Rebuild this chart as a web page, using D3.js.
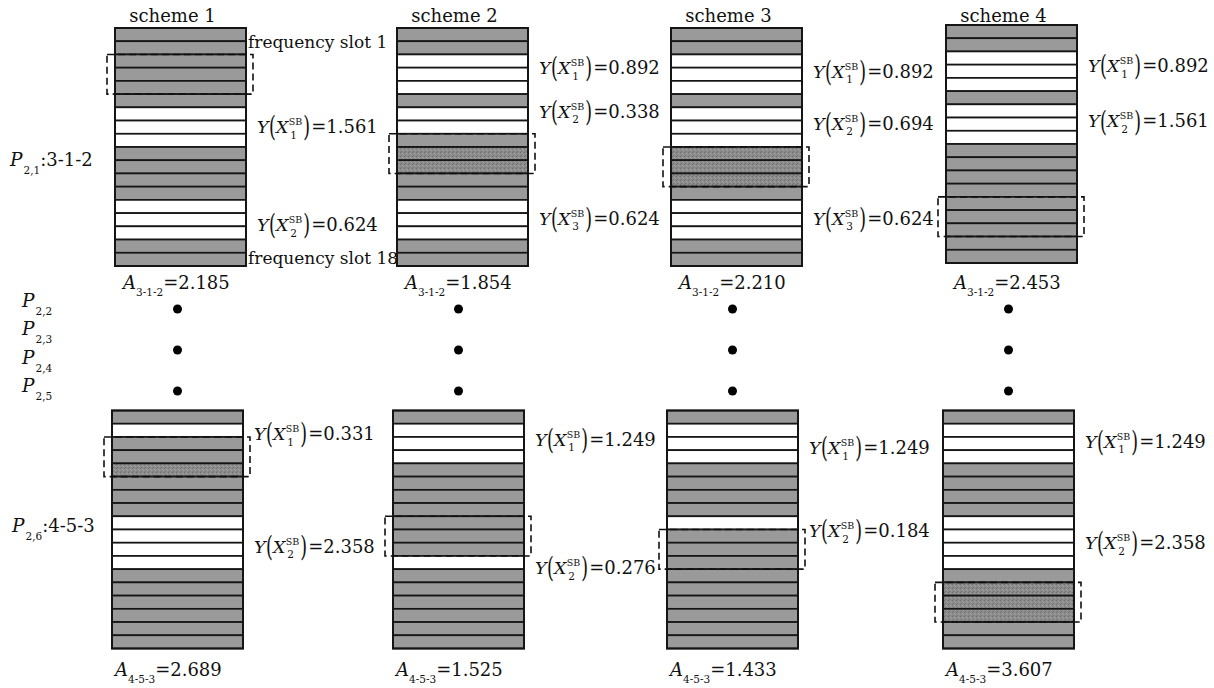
<!DOCTYPE html>
<html>
<head>
<meta charset="utf-8">
<script src="https://cdn.jsdelivr.net/npm/d3@7"></script>
<style>
  body { margin: 0; background: #fff; }
  svg { display: block; }
</style>
</head>
<body>
<svg id="chart" width="1214" height="688"></svg>
<script>
// ---- data -------------------------------------------------------------
const schemes = ["scheme 1", "scheme 2", "scheme 3", "scheme 4"];
const slotIds = d3.range(1, 19); // frequency slots 1..18

// slot state per scheme, slot 1 first: g = occupied, w = free, h = newly allocated
const topSlots = [
  "ggggggwwwggggwwwgg",
  "ggwwwgwwghhggwwwgg",
  "ggwwwgwwwhhhgwwwgg",
  "ggwwwgwwwggggggggg"
];
const bottomSlots = [
  "gwgghgggwwwwgggggg",
  "gwwwgggggggwgggggg",
  "gwwwggggwggggggggg",
  "gwwwggggwwwwghhhgg"
];

// first slot of the 3-slot candidate window (dashed box)
const topWindow = [3, 9, 10, 14];
const bottomWindow = [3, 9, 10, 14];

// Y(X_k^SB) values with the slot position they annotate
const topSB = [
  [{ k: 1, v: "1.561", at: 7.47 }, { k: 2, v: "0.624", at: 14.9 }],
  [{ k: 1, v: "0.892", at: 3.03 }, { k: 2, v: "0.338", at: 6.33 }, { k: 3, v: "0.624", at: 14.4 }],
  [{ k: 1, v: "0.892", at: 3.3 }, { k: 2, v: "0.694", at: 7.2 }, { k: 3, v: "0.624", at: 14.4 }],
  [{ k: 1, v: "0.892", at: 3.1 }, { k: 2, v: "1.561", at: 7.27 }]
];
const bottomSB = [
  [{ k: 1, v: "0.331", at: 1.77 }, { k: 2, v: "2.358", at: 10.3 }],
  [{ k: 1, v: "1.249", at: 2.2 }, { k: 2, v: "0.276", at: 11.9 }],
  [{ k: 1, v: "1.249", at: 2.83 }, { k: 2, v: "0.184", at: 9.1 }],
  [{ k: 1, v: "1.249", at: 2.35 }, { k: 2, v: "2.358", at: 10.0 }]
];

const topPath = "3-1-2";
const bottomPath = "4-5-3";
const topA = ["2.185", "1.854", "2.210", "2.453"];
const bottomA = ["2.689", "1.525", "1.433", "3.607"];
const midPaths = ["2,2", "2,3", "2,4", "2,5"];

// ---- layout -----------------------------------------------------------
const FONT = "'DejaVu Serif', serif";
const SIZE = 17.5;
const BW = 131;          // block width
const BH = 238;          // block height (18 slots)
const fills = { g: "#9a9a9a", w: "#ffffff", h: "url(#grain)" };

const svg = d3.select("#chart");

// fine grain texture for newly allocated slots
const pat = svg.append("defs").append("pattern")
  .attr("id", "grain").attr("width", 4).attr("height", 4)
  .attr("patternUnits", "userSpaceOnUse");
pat.append("rect").attr("width", 4).attr("height", 4).attr("fill", "#8b8b8b");
pat.append("rect").attr("x", 0).attr("y", 0).attr("width", 1).attr("height", 1).attr("fill", "#6f6f6f");
pat.append("rect").attr("x", 2).attr("y", 1).attr("width", 1).attr("height", 1).attr("fill", "#a6a6a6");
pat.append("rect").attr("x", 1).attr("y", 3).attr("width", 1).attr("height", 1).attr("fill", "#777");
pat.append("rect").attr("x", 3).attr("y", 2).attr("width", 1).attr("height", 1).attr("fill", "#9d9d9d");

const xTop = d3.scaleOrdinal().domain(schemes).range([115, 397, 671, 946]);
const xBot = d3.scaleOrdinal().domain(schemes).range([112, 393, 667, 943]);
const yTop = d3.scaleOrdinal().domain(schemes).range([28, 28, 28, 25]);
const yBot = d3.scaleOrdinal().domain(schemes).range([410.5, 410.5, 410.5, 410.5]);

// ---- text helpers -----------------------------------------------------
function run(g, x, y, txt, opts = {}) {
  const t = g.append("text")
    .attr("x", x).attr("y", y)
    .style("font-family", FONT)
    .style("font-size", (opts.size || SIZE) + "px")
    .attr("fill", "#111")
    .text(txt);
  if (opts.italic) t.style("font-style", "italic");
  if (opts.anchor) t.attr("text-anchor", opts.anchor);
  return t;
}
const wid = t => t.node().getComputedTextLength();

function paren(g, x, base, ch) {
  const t = g.append("text")
    .attr("transform", `translate(${x},${base - 5}) scale(1,1.62) translate(0,5)`)
    .style("font-family", FONT).style("font-size", SIZE + "px")
    .attr("fill", "#111")
    .text(ch);
  return wid(t);
}

// Y(X_k^SB)=value
function sbLabel(g, x, base, d) {
  let cx = x;
  cx += wid(run(g, cx, base, "Y", { italic: true })) + 0.5;
  cx += paren(g, cx, base, "(");
  cx += wid(run(g, cx, base, "X", { italic: true })) + 0.5;
  const sup = wid(run(g, cx, base - 8, "SB", { size: 9.5 }));
  const sub = wid(run(g, cx + 1.5, base + 5.5, String(d.k), { size: 10.5 }));
  cx += Math.max(sup, sub + 1.5) + 1;
  cx += paren(g, cx, base, ")");
  run(g, cx + 1, base, "=" + d.v, { size: 18 });
}

// A_path=value
function aLabel(g, x, base, path, v) {
  let cx = x;
  cx += wid(run(g, cx, base, "A", { italic: true, size: 18 }));
  cx += wid(run(g, cx, base + 7, path, { size: 10.5 }));
  run(g, cx, base, "=" + v, { size: 18 });
}

// P_{i,j}[:path]
function pLabel(g, x, base, idx, path) {
  let cx = x;
  cx += wid(run(g, cx, base, "P", { italic: true, size: 18.5 })) + 1;
  cx += wid(run(g, cx, base + 8, idx, { size: 10.5 }));
  if (path) run(g, cx, base, ":" + path, { size: 18 });
}

// ---- blocks -----------------------------------------------------------
function drawBlock(x0, y0, states, win, labels) {
  const g = svg.append("g");
  const y = d3.scaleBand().domain(slotIds).range([y0, y0 + BH]);
  g.selectAll("rect.slot")
    .data(slotIds)
    .join("rect")
    .attr("class", "slot")
    .attr("x", x0).attr("y", d => y(d))
    .attr("width", BW).attr("height", y.bandwidth())
    .attr("fill", d => fills[states[d - 1]])
    .attr("stroke", "#151515").attr("stroke-width", 1.7);
  g.append("rect")
    .attr("x", x0).attr("y", y0).attr("width", BW).attr("height", BH)
    .attr("fill", "none").attr("stroke", "#151515").attr("stroke-width", 2);
  // candidate window
  g.append("rect")
    .attr("x", x0 - 8).attr("y", y(win))
    .attr("width", BW + 15).attr("height", y.bandwidth() * 3)
    .attr("fill", "none").attr("stroke", "#111")
    .attr("stroke-width", 1.6).attr("stroke-dasharray", "7,4");
  // value labels
  const lx = x0 + BW + 11;
  labels.forEach(d => sbLabel(g, lx, y0 + d.at * y.step() + 6.3, d));
  return y;
}

schemes.forEach((s, i) => {
  const xt = xTop(s), yt = yTop(s);
  const xb = xBot(s), yb = yBot(s);
  drawBlock(xt, yt, topSlots[i], topWindow[i], topSB[i]);
  drawBlock(xb, yb, bottomSlots[i], bottomWindow[i], bottomSB[i]);

  // title
  run(svg, xt + BW / 2 - 8, 21.5, s, { anchor: "middle", size: 18 });

  // path metric values
  aLabel(svg, xt + 8, 289, topPath, topA[i]);
  aLabel(svg, xb + 3, 676, bottomPath, bottomA[i]);

  // ellipsis dots between the two paths
  const dy = d3.scalePoint().domain([0, 1, 2]).range([309, 391]);
  svg.selectAll(null).data([0, 1, 2]).join("circle")
    .attr("cx", xb + BW / 2).attr("cy", d => dy(d)).attr("r", 4.5)
    .attr("fill", "#000");

  if (i === 0) {
    run(svg, xt + BW + 2, 48, "frequency slot 1", { size: 17 });
    run(svg, xt + BW + 2, 264, "frequency slot 18", { size: 17 });
  }
});

// path names on the left
pLabel(svg, 10, 166, "2,1", topPath);
const pY = d3.scalePoint().domain(midPaths).range([307, 392]);
midPaths.forEach(p => pLabel(svg, 22, pY(p), p));
pLabel(svg, 12, 532, "2,6", bottomPath);
</script>
</body>
</html>
